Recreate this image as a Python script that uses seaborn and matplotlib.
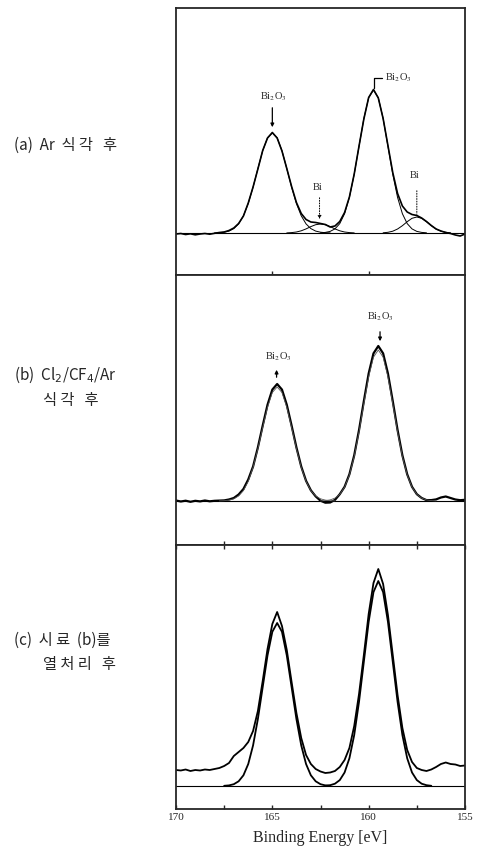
import numpy as np
import pandas as pd
import seaborn as sns
import matplotlib.pyplot as plt

sns.set_style("ticks")
plt.rcParams['font.family'] = ['Liberation Serif', 'DejaVu Serif']
plt.rcParams['mathtext.fontset'] = 'stix'

# measured spectra, 170 -> 155 eV every 0.25 eV (intensity in arbitrary units above baseline)
energy = np.linspace(170, 155, 61)

data_a = [-1.0, -0.5, -1.5, -0.8, -1.8, -1.0, -0.5, -1.2, -0.3, 0.5,
          1.0, 2.5, 5.0, 9.5, 17.0, 30.0, 46.0, 64.0, 82.5, 95.0,
          100.5, 95.0, 82.0, 64.5, 46.5, 30.5, 19.5, 13.5, 11.0, 10.5,
          9.5, 8.5, 6.0, 7.0, 11.5, 20.5, 36.0, 59.0, 87.0, 114.0,
          135.5, 143.5, 135.0, 114.5, 87.5, 60.5, 39.5, 27.0, 21.0, 18.5,
          17.5, 15.0, 11.5, 7.5, 4.0, 2.0, 0.5, -0.5, -2.0, -3.0, -1.0]

data_b = [0.5, -0.5, 0.3, -0.8, 0.2, -0.4, 0.5, -0.3, 0.2, 0.4,
          0.6, 1.5, 3.0, 6.5, 12.0, 21.5, 34.5, 53.6, 75.4, 96.2,
          111.4, 117.0, 111.4, 96.2, 75.4, 53.6, 34.5, 20.2, 10.7, 4.6,
          0.3, -1.7, -1.5, 1.1, 6.8, 14.2, 26.7, 45.7, 71.0, 99.9,
          127.5, 147.6, 155.0, 147.6, 127.5, 99.9, 71.0, 45.7, 26.7, 14.2,
          6.8, 3.0, 0.9, 0.9, 1.6, 3.5, 4.5, 3.0, 1.5, 0.8, 1.2]

data_c = [16.0, 15.5, 16.5, 15.0, 16.0, 15.5, 16.5, 16.0, 17.0, 18.0,
          20.0, 23.0, 30.0, 34.0, 38.0, 44.0, 55.0, 75.0, 105.0, 137.0,
          162.0, 174.0, 160.0, 136.0, 104.0, 73.0, 48.0, 31.0, 22.0, 17.0,
          14.5, 13.0, 13.5, 15.0, 19.0, 26.0, 38.0, 60.0, 92.0, 131.0,
          172.0, 203.0, 217.0, 202.0, 171.0, 131.0, 91.0, 58.0, 36.0, 24.0,
          18.0, 16.0, 15.0, 16.5, 19.0, 22.0, 23.5, 22.0, 21.5, 20.0, 20.5]

# fitted components (energy ranges + values)
fit_a1_e = np.linspace(168.0, 162.0, 25)
fit_a1 = [0.1, 0.3, 0.8, 1.9, 4.4, 9.1, 17.2, 29.5, 45.8, 64.4, 82.3, 95.2, 100,
          95.2, 82.3, 64.4, 45.8, 29.5, 17.2, 9.1, 4.4, 1.9, 0.8, 0.3, 0.1]
fit_a2_e = np.linspace(162.5, 157.0, 23)
fit_a2 = [0.2, 0.6, 1.6, 4.1, 9.4, 19.3, 35.6, 58.8, 86.7, 114.5, 135.3, 143,
          135.3, 114.5, 86.7, 58.8, 35.6, 19.3, 9.4, 4.1, 1.6, 0.6, 0.2]
fit_bi1_e = np.linspace(164.25, 160.75, 15)
fit_bi1 = [0.1, 0.4, 1.0, 2.2, 4.1, 6.4, 8.3, 9.0, 8.3, 6.4, 4.1, 2.2, 1.0, 0.4, 0.1]
fit_bi2_e = np.linspace(159.25, 155.75, 15)
fit_bi2 = [0.2, 0.7, 1.8, 4.0, 7.3, 11.3, 14.7, 16.0, 14.7, 11.3, 7.3, 4.0, 1.8, 0.7, 0.2]

fit_b1_e = np.linspace(167.75, 161.75, 25)
fit_b1 = [0.1, 0.3, 0.9, 2.2, 5.0, 10.4, 19.7, 33.6, 52.2, 73.5, 93.8, 108.5, 114,
          108.5, 93.8, 73.5, 52.2, 33.6, 19.7, 10.4, 5.0, 2.2, 0.9, 0.3, 0.1]
fit_b2_e = np.linspace(162.5, 156.5, 25)
fit_b2 = [0.1, 0.4, 1.1, 2.9, 6.6, 13.8, 26.0, 44.5, 69.1, 97.3, 124.2, 143.8, 151,
          143.8, 124.2, 97.3, 69.1, 44.5, 26.0, 13.8, 6.6, 2.9, 1.1, 0.4, 0.1]

fit_c1_e = np.linspace(167.5, 162.0, 23)
fit_c1 = [0.2, 0.6, 1.8, 4.7, 10.7, 22.0, 40.6, 67.0, 98.9, 130.6, 154.2, 163,
          154.2, 130.6, 98.9, 67.0, 40.6, 22.0, 10.7, 4.7, 1.8, 0.6, 0.2]
fit_c2_e = np.linspace(162.25, 156.75, 23)
fit_c2 = [0.2, 0.8, 2.3, 5.9, 13.5, 27.7, 51.0, 84.3, 124.3, 164.2, 193.9, 205,
          193.9, 164.2, 124.3, 84.3, 51.0, 27.7, 13.5, 5.9, 2.3, 0.8, 0.2]

panel_labels = [["(a)  Ar  식 각   후"],
                ["(b)  Cl$_2$/CF$_4$/Ar", "식 각   후"],
                ["(c)  시 료  (b)를", "열 처 리   후"]]


def line(ax, x, y, lw, color="black"):
    sns.lineplot(x=x, y=y, ax=ax, color=color, lw=lw, estimator=None, sort=False)


W, H = 481, 850
fig = plt.figure(figsize=(4.81, 8.5), dpi=100)


def px_axes(top, bottom):
    return fig.add_axes([176 / W, 1 - bottom / H, (465 - 176) / W, (bottom - top) / H])


ax_a = px_axes(8, 275)
ax_b = px_axes(275, 545)
ax_c = px_axes(545, 809)

# panel a
line(ax_a, energy, data_a, 1.2)
for e, v in [(fit_a1_e, fit_a1), (fit_a2_e, fit_a2), (fit_bi1_e, fit_bi1), (fit_bi2_e, fit_bi2)]:
    line(ax_a, e, v, 0.7)
ax_a.set_ylim(-42, 225)

# panel b
line(ax_b, energy, data_b, 1.6)
for e, v in [(fit_b1_e, fit_b1), (fit_b2_e, fit_b2)]:
    line(ax_b, e, v, 0.6, color="#555555")
ax_b.set_ylim(-44, 226)

# panel c
line(ax_c, energy, data_c, 1.3)
for e, v in [(fit_c1_e, fit_c1), (fit_c2_e, fit_c2)]:
    line(ax_c, e, v, 1.3)
ax_c.set_ylim(-23, 241)

for ax in [ax_a, ax_b, ax_c]:
    ax.axhline(0, color="black", lw=0.8, zorder=0)
    ax.set_xlim(170, 155)
    ax.set_yticks([])
    ax.set_xlabel("")
    ax.set_ylabel("")
    for s in ax.spines.values():
        s.set_visible(True)
        s.set_linewidth(1.3)
    ax.tick_params(axis="x", which="both", direction="in", length=3, width=1.0)

ax_a.set_xticks([165, 160])
ax_a.tick_params(labelbottom=False)
ax_b.set_xticks([167.5, 165, 162.5, 160, 157.5])
ax_b.tick_params(labelbottom=False)
ax_c.set_xticks([170, 165, 160, 155])
ax_c.set_xticks([167.5, 162.5, 157.5], minor=True)
ax_c.set_xticklabels(["170", "165", "160", "155"], fontsize=8)
ax_c.tick_params(axis="x", which="both", top=True, pad=3)
ax_c.set_xlabel("Binding Energy [eV]", fontsize=11.5, labelpad=6)

# annotations
ann = dict(fontsize=7.5, ha="center", va="center")
ax_a.text(164.97, 136, "Bi$_2$O$_3$", **ann)
ax_a.annotate("", xy=(165.0, 103), xytext=(165.0, 128),
              arrowprops=dict(arrowstyle="-|>", lw=0.9, color="black", mutation_scale=5))
ax_a.plot([159.72, 159.72, 159.3], [145, 155, 155], color="black", lw=0.9)
ax_a.text(159.15, 155, "Bi$_2$O$_3$", fontsize=7.5, ha="left", va="center")
ax_a.text(162.63, 46, "Bi", **ann)
ax_a.annotate("", xy=(162.55, 11), xytext=(162.55, 38),
              arrowprops=dict(arrowstyle="-|>", lw=0.7, ls=":", color="black", mutation_scale=5))
ax_a.text(157.6, 57, "Bi", **ann)
ax_a.annotate("", xy=(157.5, 16), xytext=(157.5, 45),
              arrowprops=dict(arrowstyle="-", lw=0.7, ls=":", color="black"))

ax_b.text(164.7, 144, "Bi$_2$O$_3$", **ann)
ax_b.annotate("", xy=(164.78, 134), xytext=(164.78, 121),
              arrowprops=dict(arrowstyle="-|>", lw=0.9, color="black", mutation_scale=5))
ax_b.text(159.4, 184, "Bi$_2$O$_3$", **ann)
ax_b.annotate("", xy=(159.41, 157), xytext=(159.41, 172),
              arrowprops=dict(arrowstyle="-|>", lw=0.9, color="black", mutation_scale=5))

# left side panel labels
kfont = ['Noto Sans CJK KR', 'DejaVu Sans']
label_pos = [[(14, 145)], [(14, 375), (43, 400)], [(14, 640), (43, 665)]]
for lines, poss in zip(panel_labels, label_pos):
    for txt, (x, y) in zip(lines, poss):
        fig.text(x / W, 1 - y / H, txt, family=kfont, fontsize=11,
                 ha="left", va="center", math_fontfamily="dejavusans")

fig.savefig("out.png", dpi=100)
